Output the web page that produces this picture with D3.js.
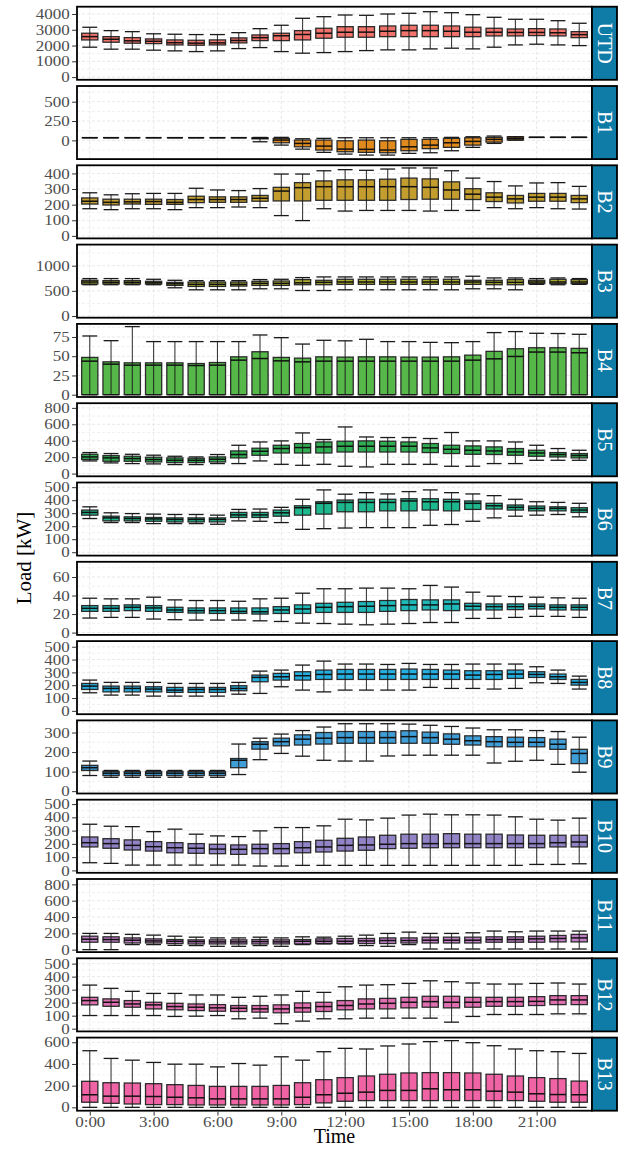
<!DOCTYPE html>
<html>
<head>
<meta charset="utf-8">
<script src="https://cdn.jsdelivr.net/npm/d3@7"></script>
<style>
  body { margin: 0; background: #fff; }
  svg { display: block; }
  text { font-family: "Liberation Serif", "Times New Roman", serif; }
</style>
</head>
<body>
<div id="chart"></div>
<script>
// hour categories and facet names
const hours = d3.range(24).map(h => h + ':00');
const buildings = ['UTD', 'B1', 'B2', 'B3', 'B4', 'B5', 'B6', 'B7', 'B8', 'B9', 'B10', 'B11', 'B12', 'B13'];
const fillColors = ['#F2736B', '#E08A1E', '#C39E2E', '#ABAB2E', '#55B848', '#2FAE52', '#1DB88E',
                    '#20B9BA', '#25AEE0', '#3F9ED8', '#9283C7', '#C27FC8', '#DF6FB0', '#F064A6'];
// free y scales, one per facet
const yDomains = [[-171, 4461], [-242, 703], [-16, 452], [-34, 1420], [-3, 92], [-33, 857], [-26, 536],
                  [-2.5, 76.4], [-26, 544], [-12, 362], [-18, 533], [-30, 866], [-21, 541], [-31, 643]];
const yTicks = [[0, 1000, 2000, 3000, 4000], [0, 250, 500], [0, 100, 200, 300, 400], [0, 500, 1000],
                [0, 25, 50, 75], [0, 200, 400, 600, 800], [0, 100, 200, 300, 400, 500], [0, 20, 40, 60],
                [0, 100, 200, 300, 400, 500], [0, 100, 200, 300], [0, 100, 200, 300, 400, 500],
                [0, 200, 400, 600, 800], [0, 100, 200, 300, 400, 500], [0, 200, 400, 600]];

// each row: [lower whisker, Q1, median, Q3, upper whisker] for one hour
const UTD = [[1895,2356,2565,2780,3158],[1770,2210,2400,2565,2944],[1770,2148,2300,2502,2880],[1706,2123,2270,2419,2744],
  [1661,2040,2180,2356,2716],[1617,2020,2150,2335,2695],[1661,2040,2170,2356,2695],[1807,2167,2320,2483,2817],
  [1870,2312,2500,2672,3070],[1617,2312,2620,2780,3285],[1516,2356,2700,2944,3727],[1554,2464,2780,3095,3828],
  [1617,2527,2843,3196,3935],[1680,2527,2850,3196,3916],[1725,2565,2906,3240,3999],[1725,2565,2944,3285,4043],
  [1788,2565,2944,3285,4144],[1832,2565,2906,3240,4081],[1788,2565,2843,3160,3955],[1895,2609,2843,3095,3790],
  [2040,2610,2830,3050,3664],[2085,2630,2830,3070,3664],[2040,2610,2810,3050,3575],[1996,2502,2691,2880,3411]];
const B1 = [[35,35,35,35,35],[35,35,35,35,35],[35,35,35,35,35],[35,35,35,35,35],
  [35,35,35,35,35],[35,35,35,35,35],[35,35,35,35,35],[35,35,35,35,35],
  [-18,20,28,33,38],[-61,-31,4,26,39],[-113,-83,-39,4,21],[-155,-125,-74,4,26],
  [-177,-147,-113,-5,34],[-190,-155,-116,4,34],[-190,-160,-125,-5,34],[-168,-134,-83,13,34],
  [-160,-107,-61,13,34],[-134,-90,-31,26,39],[-90,-61,-13,34,47],[-39,-22,13,39,56],
  [4,4,26,47,47],[39,39,39,39,39],[39,39,39,39,39],[39,39,39,39,39]];
const B2 = [[174,204,222,243,276],[168,198,215,235,263],[174,204,218,235,270],[174,202,220,235,272],
  [168,202,215,233,272],[181,213,233,254,305],[181,215,233,250,294],[185,215,233,250,290],
  [181,222,241,259,303],[130,224,287,311,396],[98,224,309,341,396],[174,228,315,352,417],
  [159,228,315,359,424],[163,228,315,359,420],[163,228,315,363,428],[163,233,315,370,435],
  [159,235,311,365,435],[163,235,294,346,417],[163,233,267,302,370],[181,220,248,276,348],
  [174,211,237,259,320],[181,222,248,272,339],[174,222,248,272,341],[172,213,237,259,317]];
const B3 = [[622,635,676,710,744],[622,635,669,703,744],[622,635,669,703,744],[622,635,660,690,730],
  [561,608,640,669,710],[521,588,630,675,703],[521,588,630,675,703],[521,595,630,675,703],
  [541,608,650,690,724],[541,608,650,696,730],[507,622,660,724,764],[507,622,669,710,777],
  [521,629,676,730,777],[521,629,676,730,777],[521,629,676,730,777],[521,629,676,730,777],
  [521,629,676,730,777],[521,629,676,730,777],[541,629,676,710,791],[541,622,669,710,757],
  [521,622,669,724,757],[629,643,676,710,744],[622,643,676,730,757],[629,643,676,724,744]];
const B4 = [[0,0,43.6,48.4,76.3],[0,0,39.7,42.7,70.2],[0,0,38.4,41.4,88.5],[0,0,38.4,41.4,69],
  [0,0,38.4,41.4,69],[0,0,37.9,40.5,69],[0,0,38.4,41.8,69],[0,0,44.9,49.2,69],
  [0,0,47,55.8,77.6],[0,0,44,48.4,74.1],[0,0,42.7,47.5,65.8],[0,0,43.6,49.2,70.7],
  [0,0,43.6,48.8,70],[0,0,43.6,49.2,72],[0,0,43.6,49.2,69],[0,0,43.6,48.8,69],
  [0,0,43.6,48.8,68],[0,0,43.6,49.2,67.6],[0,0,44.9,51.4,69],[0,0,46.6,56.3,80.7],
  [0,0,49.7,59.7,82],[0,0,55.4,61,79.8],[0,0,55.4,61,79.5],[0,0,54.5,60.2,78.5]];
const B5 = [[154,171,203,235,256],[130,150,191,219,244],[122,150,183,211,235],[118,142,171,199,224],
  [110,134,162,191,211],[110,134,162,187,203],[122,142,175,203,232],[122,191,232,276,345],
  [154,223,272,309,385],[113,251,305,345,398],[101,251,317,366,495],[113,251,325,385,415],
  [89,263,333,394,568],[81,263,333,398,446],[113,263,333,394,439],[113,263,333,385,439],
  [113,256,313,366,427],[89,244,296,345,500],[89,235,284,337,398],[122,232,276,325,398],
  [122,223,264,305,385],[162,211,251,284,345],[162,203,232,256,305],[162,191,220,244,284]];
const B6 = [[259,285,306,324,349],[228,241,264,277,303],[228,241,259,272,297],[220,238,256,267,293],
  [220,233,252,264,290],[220,233,252,264,290],[215,233,252,264,285],[241,267,287,306,329],
  [238,267,287,306,332],[228,277,303,324,345],[176,285,342,357,407],[181,293,376,388,479],
  [186,311,383,401,446],[189,311,383,407,458],[189,318,383,407,448],[189,318,394,411,466],
  [207,324,388,411,479],[213,318,388,407,458],[238,329,376,394,448],[264,332,357,376,435],
  [277,324,345,363,407],[285,318,337,355,388],[290,318,337,349,383],[272,306,324,342,376]];
const B7 = [[15.7,22.9,26.2,29.1,37.1],[16.4,22.9,26.2,29.1,36.4],[16.4,23.7,27.3,29.9,36.4],[14.6,22.9,26.6,29.1,38.2],
  [13.9,21.8,24.4,27.3,35.3],[13.5,21.1,23.7,26.6,34.6],[13.5,20.7,23.7,26.6,34.6],[13.5,20.7,22.9,26.6,33.8],
  [12.7,20,22.5,26.6,36.4],[12,20.7,24.4,28,37.1],[10.2,20.7,25.5,29.9,42.5],[9.8,21.8,27.3,31.6,47.3],
  [9.1,21.8,28,32.7,47.3],[8.4,21.8,28.4,33.5,48],[9.1,22.9,29.1,34.6,48],[9.8,23.7,29.9,35.7,47.3],
  [10.9,24.4,29.9,35.3,50.9],[10.9,23.7,30.9,35.3,49.1],[15.3,24.4,28.4,31.6,43.6],[15.3,24.4,28,30.9,39.3],
  [16.4,24.8,28,30.9,38.9],[17.5,25.5,28.4,30.9,38.2],[17.5,24.4,27.3,29.9,37.5],[16.4,24.4,27.3,29.9,37.1]];
const B8 = [[141,167,193,214,240],[123,148,175,193,222],[123,148,175,193,222],[115,148,170,188,222],
  [115,144,162,183,214],[115,144,167,183,214],[115,144,167,183,214],[130,157,175,196,222],
  [136,227,261,279,310],[188,240,266,292,318],[162,240,274,305,357],[148,245,284,318,388],
  [162,245,287,323,365],[162,245,287,323,365],[162,245,287,323,362],[162,245,287,326,370],
  [183,245,287,323,362],[175,245,287,318,362],[175,245,279,313,365],[170,245,284,313,365],
  [175,253,287,318,365],[219,261,284,305,344],[214,245,266,287,318],[170,201,222,245,271]];
const B9 = [[80,106,120,132,154],[71,80,92,101,106],[71,80,92,101,106],[71,80,92,101,106],
  [71,80,92,101,106],[71,80,92,101,106],[71,80,92,101,106],[85,120,158,167,241],
  [161,215,240,253,271],[193,232,253,271,292],[179,236,266,288,310],[158,241,271,300,328],
  [154,245,274,305,345],[154,245,274,305,345],[180,245,274,305,345],[184,245,279,309,343],
  [184,245,274,302,337],[184,240,266,293,331],[184,236,258,283,323],[144,227,253,279,314],
  [153,227,250,276,314],[158,227,250,274,310],[137,214,240,266,305],[97,141,193,214,276]];
const B10 = [[58,177,209,252,348],[53,167,202,239,333],[40,154,189,230,330],[40,146,179,217,292],
  [40,133,171,209,311],[40,129,167,202,273],[40,126,161,197,260],[40,121,159,192,255],
  [33,126,164,197,298],[33,126,164,202,323],[38,133,171,217,323],[38,139,177,227,336],
  [38,146,189,242,386],[38,152,192,252,381],[38,164,197,265,394],[38,167,202,273,417],
  [38,171,202,273,424],[38,171,202,277,419],[38,171,202,273,419],[38,171,202,273,417],
  [38,171,202,267,404],[45,171,202,265,386],[45,177,209,265,379],[50,177,214,265,394]];
const B11 = [[0,91,128,165,199],[0,91,124,157,199],[62,82,116,144,187],[62,82,107,132,178],
  [53,75,103,124,165],[50,70,99,120,153],[41,70,95,120,144],[41,70,95,120,144],
  [50,70,99,124,153],[41,70,95,120,144],[62,70,103,124,157],[70,75,103,132,153],
  [70,75,103,137,165],[50,75,107,137,178],[41,75,112,144,199],[62,82,112,144,215],
  [8,82,116,153,199],[8,82,116,153,199],[8,82,116,153,207],[8,91,124,157,228],
  [8,91,124,157,219],[8,91,132,165,228],[8,95,137,174,228],[8,95,144,187,228]];
const B12 = [[101,183,216,241,335],[101,172,203,229,310],[101,165,190,216,287],[101,152,183,203,271],
  [94,145,170,195,271],[96,139,165,190,259],[101,134,160,185,259],[76,132,157,178,241],
  [81,127,152,178,249],[38,122,152,183,259],[58,127,160,198,287],[76,132,170,203,279],
  [76,145,178,216,322],[81,152,190,229,335],[81,152,195,233,338],[81,160,203,241,348],
  [81,165,208,249,368],[50,160,203,249,361],[94,165,203,241,351],[109,172,208,241,343],
  [109,172,208,241,343],[109,178,210,246,348],[114,185,221,254,351],[114,185,221,254,343]];
const B13 = [[0,47,116,240,522],[0,37,103,227,451],[0,31,103,224,435],[0,25,100,218,414],
  [0,25,93,209,398],[0,22,88,202,398],[0,22,78,193,373],[0,22,78,193,404],
  [0,22,78,193,389],[0,22,78,202,466],[0,25,93,227,435],[0,41,116,255,513],
  [0,56,130,274,544],[0,62,140,289,538],[0,62,156,305,566],[0,62,156,317,584],
  [0,62,171,320,606],[0,62,162,320,615],[0,62,162,317,596],[0,62,149,305,568],
  [0,62,140,289,538],[0,56,125,274,522],[0,47,118,265,513],[0,47,116,242,497]];

const stats = [UTD, B1, B2, B3, B4, B5, B6, B7, B8, B9, B10, B11, B12, B13];

const W = 631, H = 1149;
const left = 77, right = 592, stripW = 25;
const top0 = 6.7, pitch = 79.3, panelH = 73.1;
const tickFont = 14.5, tickStretch = 1.17;   // the source font looks wide and short

const svg = d3.select('#chart').append('svg')
  .attr('width', W)
  .attr('height', H);

const x = d3.scalePoint().domain(hours).range([left, right]).padding(0.6);
const boxW = x.step() * 0.76;
const capW = x.step() * 0.7;
const xBreaks = hours.filter((d, i) => i % 3 === 0);

function styleTicks(ax) {
  ax.select('.domain').remove();
  ax.selectAll('line').attr('stroke', '#333');
  ax.selectAll('text')
    .attr('fill', '#4d4d4d')
    .attr('font-size', tickFont)
    .attr('transform', `scale(${tickStretch},1)`)
    .style('font-family', '"Liberation Serif", "Times New Roman", serif');
}

buildings.forEach((name, p) => {
  const pTop = top0 + p * pitch;
  const pBot = pTop + panelH;
  const y = d3.scaleLinear().domain(yDomains[p]).range([pBot, pTop]);
  const g = svg.append('g');

  // minor grid lines halfway between the breaks
  const tk = yTicks[p];
  const st = tk[1] - tk[0];
  const minor = d3.range(-1, tk.length).map(k => tk[0] + st * (k + 0.5))
    .filter(v => v > yDomains[p][0] && v < yDomains[p][1]);
  g.selectAll('.gminor').data(minor).join('line')
    .attr('x1', left).attr('x2', right)
    .attr('y1', d => y(d)).attr('y2', d => y(d))
    .attr('stroke', '#e6e6e6').attr('stroke-width', 0.6).attr('stroke-dasharray', '3,2');
  g.selectAll('.gmajor').data(tk).join('line')
    .attr('x1', left).attr('x2', right)
    .attr('y1', d => y(d)).attr('y2', d => y(d))
    .attr('stroke', '#e2e2e2').attr('stroke-width', 0.8).attr('stroke-dasharray', '3,2');
  g.selectAll('.gx').data(xBreaks).join('line')
    .attr('x1', d => x(d)).attr('x2', d => x(d))
    .attr('y1', pTop).attr('y2', pBot)
    .attr('stroke', '#e2e2e2').attr('stroke-width', 0.8).attr('stroke-dasharray', '3,2');

  // boxplots
  const rows = stats[p].map((s, i) => ({h: hours[i], lw: s[0], q1: s[1], med: s[2], q3: s[3], uw: s[4]}));
  const bx = g.selectAll('.bx').data(rows).join('g');

  bx.append('rect')
    .attr('x', d => x(d.h) - boxW / 2)
    .attr('width', boxW)
    .attr('y', d => y(d.q3))
    .attr('height', d => Math.max(0, y(d.q1) - y(d.q3)))
    .attr('fill', fillColors[p])
    .attr('stroke', '#2b2b2b')
    .attr('stroke-width', 1.3);

  bx.append('line')
    .attr('x1', d => x(d.h)).attr('x2', d => x(d.h))
    .attr('y1', d => y(d.lw)).attr('y2', d => y(d.uw))
    .attr('stroke', '#1a1a1a').attr('stroke-opacity', 0.85).attr('stroke-width', 1.1);
  ['lw', 'uw'].forEach(k => {
    bx.append('line')
      .attr('x1', d => x(d.h) - capW / 2).attr('x2', d => x(d.h) + capW / 2)
      .attr('y1', d => y(d[k])).attr('y2', d => y(d[k]))
      .attr('stroke', '#1a1a1a').attr('stroke-width', 1.3);
  });
  bx.append('line')
    .attr('x1', d => x(d.h) - boxW / 2).attr('x2', d => x(d.h) + boxW / 2)
    .attr('y1', d => y(d.med)).attr('y2', d => y(d.med))
    .attr('stroke', '#111').attr('stroke-width', 1.5);

  // panel border
  g.append('rect')
    .attr('x', left).attr('y', pTop)
    .attr('width', right - left).attr('height', panelH)
    .attr('fill', 'none').attr('stroke', '#000').attr('stroke-width', 1.8);

  // strip on the right
  g.append('rect')
    .attr('x', right).attr('y', pTop)
    .attr('width', stripW).attr('height', panelH)
    .attr('fill', '#0F7BA7').attr('stroke', '#000').attr('stroke-width', 1.8);
  g.append('text')
    .attr('transform', `translate(${right + stripW / 2},${pTop + panelH / 2}) rotate(90)`)
    .attr('text-anchor', 'middle')
    .attr('dominant-baseline', 'central')
    .attr('fill', '#fff')
    .attr('font-size', 20)
    .text(name);

  // y axis
  const ax = g.append('g')
    .attr('transform', `translate(${left - 0.9},0)`)
    .call(d3.axisLeft(y).tickValues(tk).tickFormat(d3.format('d')).tickSize(4).tickPadding(1.5));
  styleTicks(ax);

  if (p === buildings.length - 1) {
    const xa = g.append('g')
      .attr('transform', `translate(0,${pBot + 0.9})`)
      .call(d3.axisBottom(x).tickValues(xBreaks).tickSize(4).tickPadding(1));
    styleTicks(xa);
  }
});

// axis titles
svg.append('text')
  .attr('transform', 'translate(31,558) rotate(-90)')
  .attr('text-anchor', 'middle')
  .attr('font-size', 21)
  .attr('fill', '#000')
  .text('Load [kW]');
svg.append('text')
  .attr('x', (left + right) / 2)
  .attr('y', 1143)
  .attr('text-anchor', 'middle')
  .attr('font-size', 20)
  .attr('fill', '#000')
  .text('Time');
</script>
</body>
</html>
